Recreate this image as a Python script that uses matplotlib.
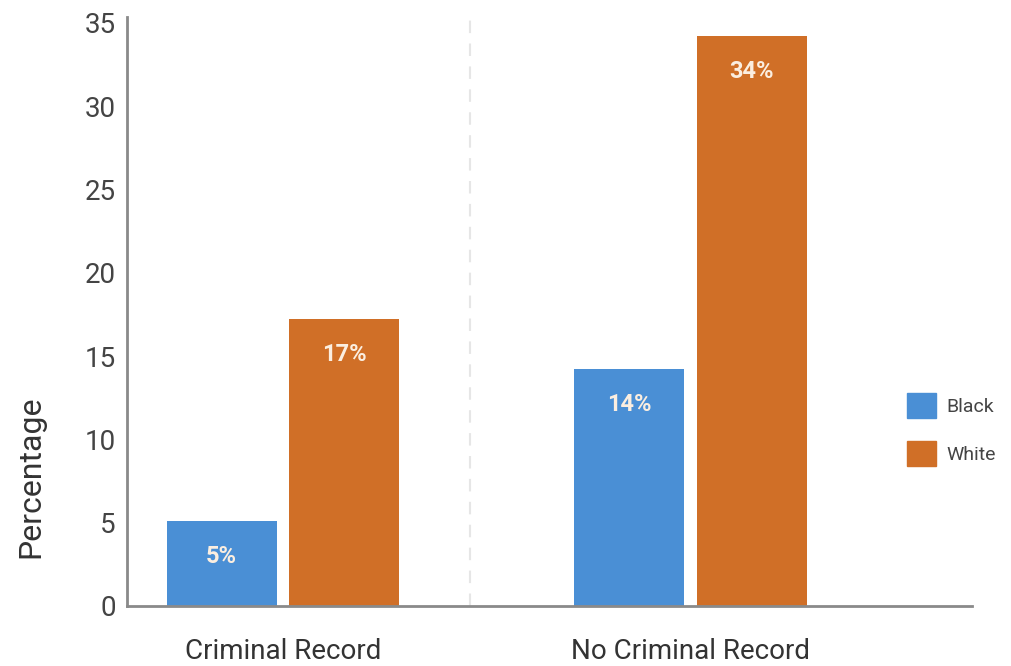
import matplotlib
matplotlib.use("Agg")
import matplotlib.pyplot as plt
from matplotlib.patches import Patch

plt.rcParams['font.family'] = ['Roboto', 'DejaVu Sans']

groups = ["Criminal Record", "No Criminal Record"]
series = ["Black", "White"]
black_vals = [5.1, 14.2]
white_vals = [17.2, 34.2]
black_labels = ["5%", "14%"]
white_labels = ["17%", "34%"]
yticks = [0, 5, 10, 15, 20, 25, 30, 35]

c_black = "#4a8fd5"
c_white = "#d06f27"

fig = plt.figure(figsize=(10.12, 6.66), dpi=100)
ax = fig.add_axes([0.1255, 0.0901, 0.8345, 0.8844])

x = [0, 1]
w = 0.27
off = 0.15
b1 = ax.bar([i - off for i in x], black_vals, w, color=c_black)
b2 = ax.bar([i + off for i in x], white_vals, w, color=c_white)

for bars, labs in ((b1, black_labels), (b2, white_labels)):
    for r, lab in zip(bars, labs):
        ax.text(r.get_x() + r.get_width() / 2, r.get_height() - 2.1, lab,
                ha="center", va="center", color="#fbeee0", fontsize=17,
                fontweight="bold")

ax.axvline(0.458, color="#e6e6e6", lw=1.5, ls=(0, (6, 5)), zorder=0)

ax.set_xlim(-0.382, 1.689)
ax.set_ylim(0, 35.35)
ax.set_yticks(yticks)
ax.set_yticklabels([str(t) for t in yticks], fontsize=20, color="#444444")
ax.set_xticks(x)
ax.set_xticklabels(groups, fontsize=20, color="#333333")
ax.tick_params(axis="y", length=0, pad=8)
ax.tick_params(axis="x", length=0, pad=23)
ax.set_ylabel("Percentage", fontsize=23, color="#333333")
ax.yaxis.set_label_coords(-0.097, 0.22)

for s in ("top", "right"):
    ax.spines[s].set_visible(False)
for s in ("left", "bottom"):
    ax.spines[s].set_color("#8a8a8a")
    ax.spines[s].set_linewidth(2)

handles = [Patch(color=c_black, label="Black"), Patch(color=c_white, label="White")]
fig.legend(handles=handles, loc="center left", bbox_to_anchor=(0.879, 0.355),
           frameon=False, fontsize=14, handlelength=1.5, handleheight=1.6,
           handletextpad=0.5, labelspacing=1.2, labelcolor="#444444")

fig.savefig("out.png", dpi=100)
